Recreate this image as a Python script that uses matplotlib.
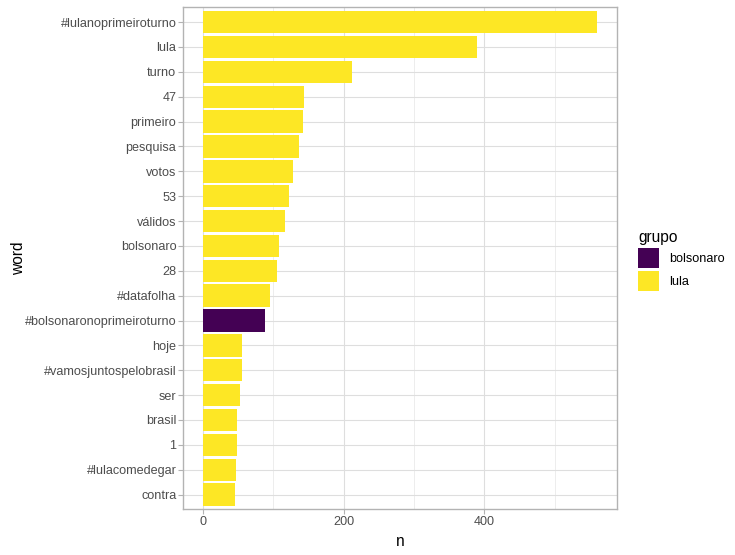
import matplotlib
matplotlib.use("Agg")
from matplotlib import pyplot as plt
from matplotlib.patches import Patch

plt.rcParams['font.family'] = ['Liberation Sans', 'DejaVu Sans']

# palavras mais frequentes (de cima para baixo)
words = ['#lulanoprimeiroturno', 'lula', 'turno', '47', 'primeiro', 'pesquisa',
         'votos', '53', 'válidos', 'bolsonaro', '28', '#datafolha',
         '#bolsonaronoprimeiroturno', 'hoje', '#vamosjuntospelobrasil', 'ser',
         'brasil', '1', '#lulacomedegar', 'contra']
counts = [560, 389, 212, 143, 142, 136, 128, 122, 116, 108, 105, 95,
          88, 55, 55, 52, 48, 48, 47, 45]
grupo = ['lula'] * 12 + ['bolsonaro'] + ['lula'] * 7

cores = {'bolsonaro': '#440154', 'lula': '#FDE725'}

fig = plt.figure(figsize=(7.35, 5.55), dpi=100)
ax = fig.add_axes([0.2494, 0.082, 0.5894, 0.905])

# posições: primeira palavra no topo
n_words = len(words)
ypos = [n_words - i for i in range(n_words)]
ax.barh(ypos, counts, height=0.9, color=[cores[g] for g in grupo], zorder=3)

ax.set_ylim(0.4, n_words + 0.6)
xmax = max(counts)
ax.set_xlim(-0.05 * xmax, 1.05 * xmax)

ax.set_yticks(ypos)
ax.set_yticklabels(words)
ax.set_xticks([0, 200, 400])
ax.set_xticks([100, 300, 500], minor=True)

ax.grid(True, which='major', color='#DEDEDE', linewidth=0.8, zorder=0)
ax.grid(True, which='minor', axis='x', color='#E6E6E6', linewidth=0.5, zorder=0)
ax.set_axisbelow(True)

for s in ax.spines.values():
    s.set_color('#B3B3B3')
    s.set_linewidth(1.0)

ax.tick_params(axis='both', which='major', length=3.5, width=0.8, color='#B3B3B3',
               labelsize=9.1, labelcolor='#4D4D4D', pad=1.5)
ax.tick_params(axis='x', which='minor', length=0)

ax.set_xlabel('n', fontsize=11.2, labelpad=4)
ax.set_ylabel('word', fontsize=11.2, labelpad=-1)

handles = [Patch(facecolor=cores[g], edgecolor='none', label=g) for g in ['bolsonaro', 'lula']]
leg = fig.legend(handles=handles, title='grupo', loc='upper left',
                 bbox_to_anchor=(0.86, 0.597), frameon=False, fontsize=9.1,
                 title_fontsize=11.2, handlelength=1.66, handleheight=2.05,
                 handletextpad=0.75, labelspacing=0.25, borderpad=0)
leg._legend_box.align = 'left'

plt.savefig('out.png', dpi=100)
